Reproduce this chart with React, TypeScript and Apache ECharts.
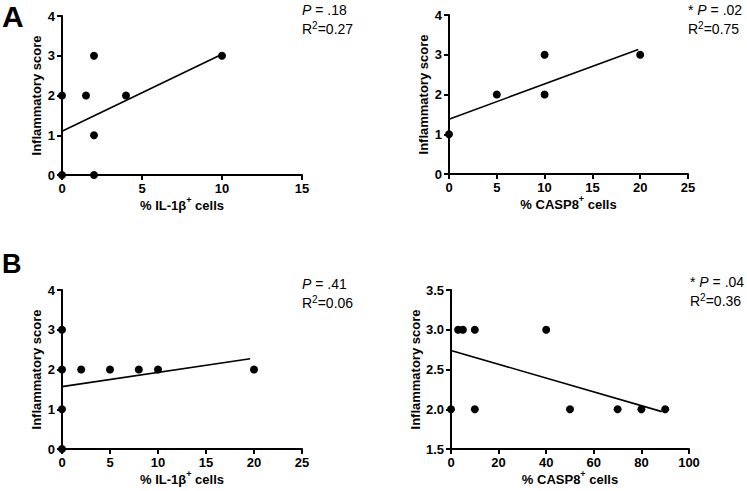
import React, { useEffect, useRef } from "react";
import * as echarts from "echarts";

const FONT = "'Liberation Sans', Arial, Helvetica, sans-serif";

// Panel A (left): % IL-1β+ cells vs inflammatory score
const aLeftX = [0, 0, 1.5, 2, 2, 2, 4, 10];
const aLeftY = [2, 0, 2, 3, 1, 0, 2, 3];
const aLeftFitX = [0, 10];
const aLeftFitY = [1.1, 3.04];

// Panel A (right): % CASP8+ cells
const aRightX = [0, 5, 10, 10, 20];
const aRightY = [1, 2, 3, 2, 3];
const aRightFitX = [0, 19.8];
const aRightFitY = [1.38, 3.13];

// Panel B (left): % IL-1β+ cells
const bLeftX = [0, 0, 0, 0, 2, 5, 8, 10, 20];
const bLeftY = [3, 2, 1, 0, 2, 2, 2, 2, 2];
const bLeftFitX = [0, 19.6];
const bLeftFitY = [1.57, 2.27];

// Panel B (right): % CASP8+ cells
const bRightX = [0, 3, 5, 10, 40, 10, 50, 70, 80, 90];
const bRightY = [2, 3, 3, 3, 3, 2, 2, 2, 2, 2];
const bRightFitX = [0, 88.6];
const bRightFitY = [2.74, 1.97];

const panelLetters = ["A", "B"];
const pTexts = ["{i|P} = .18", "* {i|P} = .02", "{i|P} = .41", "* {i|P} = .04"];
const r2Texts = ["R{s|2}=0.27", "R{s|2}=0.75", "R{s|2}=0.06", "R{s|2}=0.36"];
const xNames = ["% IL-1β{s|+} cells", "% CASP8{s|+} cells", "% IL-1β{s|+} cells", "% CASP8{s|+} cells"];
const yName = "Inflammatory score";

const xRanges = [
  { min: 0, max: 15, interval: 5 },
  { min: 0, max: 25, interval: 5 },
  { min: 0, max: 25, interval: 5 },
  { min: 0, max: 100, interval: 20 },
];
const yRanges = [
  { min: 0, max: 4, interval: 1 },
  { min: 0, max: 4, interval: 1 },
  { min: 0, max: 4, interval: 1 },
  { min: 1.5, max: 3.5, interval: 0.5 },
];

const zip = (xs: number[], ys: number[]) => xs.map((x, i) => [x, ys[i]]);

export default function App() {
  const ref = useRef<HTMLDivElement>(null);
  useEffect(() => {
    if (!ref.current) return;
    const chart = echarts.init(ref.current, null, { renderer: "svg" });

    const grids = [
      { left: 62, top: 16, width: 240, height: 159 },
      { left: 449, top: 15, width: 239, height: 159 },
      { left: 62, top: 290, width: 240, height: 159 },
      { left: 451, top: 290, width: 238, height: 159 },
    ];

    const axisLine = { show: true, onZero: false, lineStyle: { color: "#000", width: 2 } };
    const axisTick = { show: true, inside: false, length: 5, lineStyle: { color: "#000", width: 2 } };
    const labelStyle = { color: "#000", fontWeight: "bold" as const, fontSize: 13, fontFamily: FONT, margin: 7 };

    const xAxis = xRanges.map((r, i) => ({
      type: "value",
      gridIndex: i,
      min: r.min,
      max: r.max,
      interval: r.interval,
      axisLine,
      axisTick,
      splitLine: { show: false },
      axisLabel: { ...labelStyle },
      name: xNames[i],
      nameLocation: "middle",
      nameGap: 20,
      nameTextStyle: {
        color: "#000",
        fontWeight: "bold",
        fontSize: 13,
        fontFamily: FONT,
        lineHeight: 20,
        rich: {
          s: { fontSize: 9, fontWeight: "bold", fontFamily: FONT, color: "#000", verticalAlign: "top", lineHeight: 12 },
        },
      },
    }));

    const yAxis = yRanges.map((r, i) => ({
      type: "value",
      gridIndex: i,
      min: r.min,
      max: r.max,
      interval: r.interval,
      axisLine,
      axisTick,
      splitLine: { show: false },
      axisLabel: {
        ...labelStyle,
        formatter: (v: number) => (r.interval < 1 ? v.toFixed(1) : String(v)),
      },
      name: yName,
      nameLocation: "middle",
      nameGap: 19,
      nameTextStyle: { color: "#000", fontWeight: "bold", fontSize: 13, fontFamily: FONT },
    }));

    const scatterData = [zip(aLeftX, aLeftY), zip(aRightX, aRightY), zip(bLeftX, bLeftY), zip(bRightX, bRightY)];
    const fitData = [
      zip(aLeftFitX, aLeftFitY),
      zip(aRightFitX, aRightFitY),
      zip(bLeftFitX, bLeftFitY),
      zip(bRightFitX, bRightFitY),
    ];

    const series: any[] = [];
    for (let i = 0; i < 4; i++) {
      series.push({
        type: "line",
        xAxisIndex: i,
        yAxisIndex: i,
        data: fitData[i],
        symbol: "none",
        lineStyle: { color: "#000", width: 1.6 },
        z: 3,
        clip: false,
      });
      series.push({
        type: "scatter",
        xAxisIndex: i,
        yAxisIndex: i,
        data: scatterData[i],
        symbol: "circle",
        symbolSize: 8,
        itemStyle: { color: "#000", opacity: 1 },
        z: 4,
        clip: false,
      });
    }

    const annPos = [
      { x: 302, y: 2, y2: 20 },
      { x: 688, y: 2, y2: 20 },
      { x: 302, y: 276, y2: 294 },
      { x: 690, y: 274, y2: 292 },
    ];
    const richAnn = {
      i: { fontStyle: "italic", fontSize: 14, fontFamily: FONT, fill: "#000" },
      s: { fontSize: 10, fontFamily: FONT, fill: "#000", verticalAlign: "top", lineHeight: 10 },
    };

    const graphic: any[] = [];
    annPos.forEach((p, i) => {
      graphic.push({
        type: "text",
        x: p.x,
        y: p.y,
        style: {
          text: pTexts[i],
          rich: richAnn,
          fontSize: 14,
          fontFamily: FONT,
          fill: "#000",
          verticalAlign: "top",
          lineHeight: 16,
        },
      });
      graphic.push({
        type: "text",
        x: p.x,
        y: p.y2,
        style: {
          text: r2Texts[i],
          rich: richAnn,
          fontSize: 14,
          fontFamily: FONT,
          fill: "#000",
          verticalAlign: "top",
          lineHeight: 18,
        },
      });
    });
    graphic.push({
      type: "text",
      x: 2,
      y: 1,
      style: { text: panelLetters[0], fontSize: 30, fontWeight: "bold", fontFamily: FONT, fill: "#000", verticalAlign: "top" },
    });
    graphic.push({
      type: "text",
      x: 2,
      y: 250,
      style: { text: panelLetters[1], fontSize: 27, fontWeight: "bold", fontFamily: FONT, fill: "#000", verticalAlign: "top" },
    });

    chart.setOption({
      animation: false,
      backgroundColor: "#fff",
      grid: grids,
      xAxis,
      yAxis,
      series,
      graphic,
    });
    return () => chart.dispose();
  }, []);

  return (
    <div
      ref={ref}
      style={{ position: "absolute", left: 0, top: 0, width: 747, height: 491, background: "#fff" }}
    />
  );
}
